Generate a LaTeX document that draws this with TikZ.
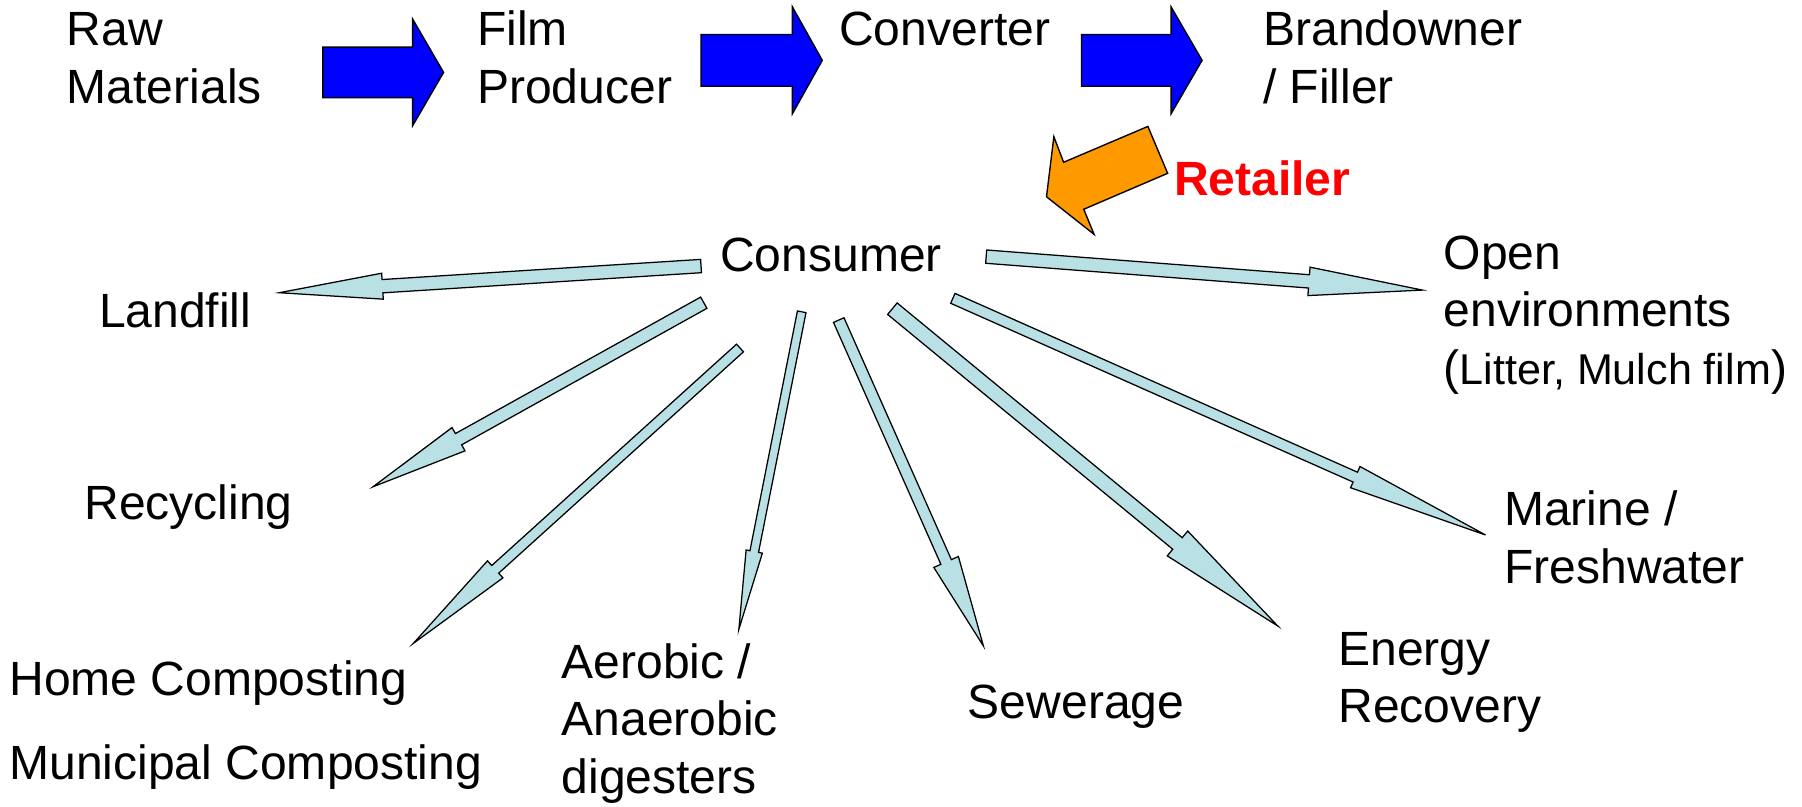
\documentclass[tikz,border=0pt]{standalone}
\usepackage{fontspec}
\setmainfont{Liberation Sans}
\usetikzlibrary{calc}
\definecolor{flowfill}{RGB}{185,224,228}
\definecolor{stepfill}{RGB}{0,0,255}
\definecolor{retfill}{RGB}{255,153,0}
\definecolor{retred}{RGB}{255,0,0}
% #1 style, #2 start, #3 end, #4 half shaft, #5 half head, #6 head length
\newcommand\blockarrow[6]{%
  \coordinate (#2-#3-h) at ($(#3)!#6pt!(#2)$);
  \draw[#1] ($(#2)!#4pt!90:(#3)$) -- ($(#2-#3-h)!#4pt!90:(#3)$) -- ($(#2-#3-h)!#5pt!90:(#3)$) -- (#3)
    -- ($(#2-#3-h)!#5pt!-90:(#3)$) -- ($(#2-#3-h)!#4pt!-90:(#3)$) -- ($(#2)!#4pt!-90:(#3)$) -- cycle;
}
\newcommand\twol[2]{\vtop{\hbox{#1}\hbox{#2}}}
\newcommand\threel[3]{\vtop{\hbox{#1}\hbox{#2}\hbox{#3}}}
\begin{document}
\begin{tikzpicture}[x=1pt,y=-1pt,
  lbl/.style={anchor=base west, inner sep=0pt, font=\fontsize{41.8}{50}\selectfont},
  stepbox/.style={draw=black, line width=1.2pt, fill=stepfill},
  flowbox/.style={draw=black, line width=1.1pt, fill=flowfill},
  retbox/.style={draw=black, line width=1.2pt, fill=retfill}]
\useasboundingbox (0,0) rectangle (1568,702);

% supply chain
\node[lbl] (raw) at (58,39.8) {\twol{Raw}{Materials}};
\node[lbl] (film) at (415,39.8) {\twol{Film}{Producer}};
\node[lbl] (conv) at (730,39.8) {Converter};
\node[lbl] (brand) at (1099,39.8) {\twol{Brandowner}{/ Filler}};
\node[lbl, font=\fontsize{41.8}{50}\selectfont\bfseries, text=retred] (retail) at (1021.5,170.3) {Retailer};
\node[lbl] (cons) at (626.5,236.4) {Consumer};

% destinations
\node[lbl] (landfill) at (86,284.8) {Landfill};
\node[lbl] (recyc) at (73.3,451.9) {Recycling};
\node[lbl] (home) at (8,604.8) {Home Composting};
\node[lbl] (muni) at (8,678.7) {Municipal Composting};
\node[lbl] (aero) at (488.5,590.3) {\threel{Aerobic /}{Anaerobic}{digesters}};
\node[lbl] (sew) at (842,625) {Sewerage};
\node[lbl] (energy) at (1164.5,578.7) {\twol{Energy}{Recovery}};
\node[lbl] (marine) at (1308.7,457.6) {\twol{Marine /}{Freshwater}};
\node[lbl] (open) at (1256,234.5) {\threel{Open}{environments}{(\fontsize{37.5}{50}\selectfont Litter, Mulch film\fontsize{41.8}{50}\selectfont)}};

% blue process arrows
\coordinate (a1s) at (281,63);    \coordinate (a1e) at (386,63);
\coordinate (a2s) at (610,52.5);  \coordinate (a2e) at (715.5,52.5);
\coordinate (a3s) at (941,52.5);  \coordinate (a3e) at (1046,52.5);
\blockarrow{stepbox}{a1s}{a1e}{22}{46.5}{27}
\blockarrow{stepbox}{a2s}{a2e}{22.5}{46.5}{26}
\blockarrow{stepbox}{a3s}{a3e}{22.5}{46.5}{27}

% orange retailer arrow
\draw[retbox] (998.8,110.0) -- (1016.0,150.8) -- (943.0,182.1) -- (952.0,203.9)
  -- (910.6,171.2) -- (917.0,119.0) -- (925.5,141.2) -- cycle;

% consumer fan-out arrows
\coordinate (lf-s) at (610,231.5);   \coordinate (lf-e) at (243,254.7);
\coordinate (rc-s) at (612.4,263.4); \coordinate (rc-e) at (324.7,423.5);
\coordinate (hc-s) at (643.9,302.8); \coordinate (hc-e) at (359.7,559.8);
\coordinate (ae-s) at (697.6,271.3); \coordinate (ae-e) at (642.9,547.6);
\coordinate (sw-s) at (729.8,278.5); \coordinate (sw-e) at (855.7,562.1);
\coordinate (er-s) at (776.5,268.6); \coordinate (er-e) at (1111.8,544.7);
\coordinate (mf-s) at (829.1,259.6); \coordinate (mf-e) at (1292.6,465.5);
\coordinate (oe-s) at (858.1,223.3); \coordinate (oe-e) at (1237.7,252.4);
\blockarrow{flowbox}{lf-s}{lf-e}{5.8}{11.3}{90}
\blockarrow{flowbox}{rc-s}{rc-e}{5.6}{11.6}{85}
\blockarrow{flowbox}{hc-s}{hc-e}{4.5}{10}{96}
\blockarrow{flowbox}{ae-s}{ae-e}{3.8}{7.2}{69}
\blockarrow{flowbox}{sw-s}{sw-e}{5}{11.7}{80}
\blockarrow{flowbox}{er-s}{er-e}{6.5}{14}{113}
\blockarrow{flowbox}{mf-s}{mf-e}{4.7}{10.1}{124}
\blockarrow{flowbox}{oe-s}{oe-e}{5.8}{12.4}{99}
\end{tikzpicture}
\end{document}
